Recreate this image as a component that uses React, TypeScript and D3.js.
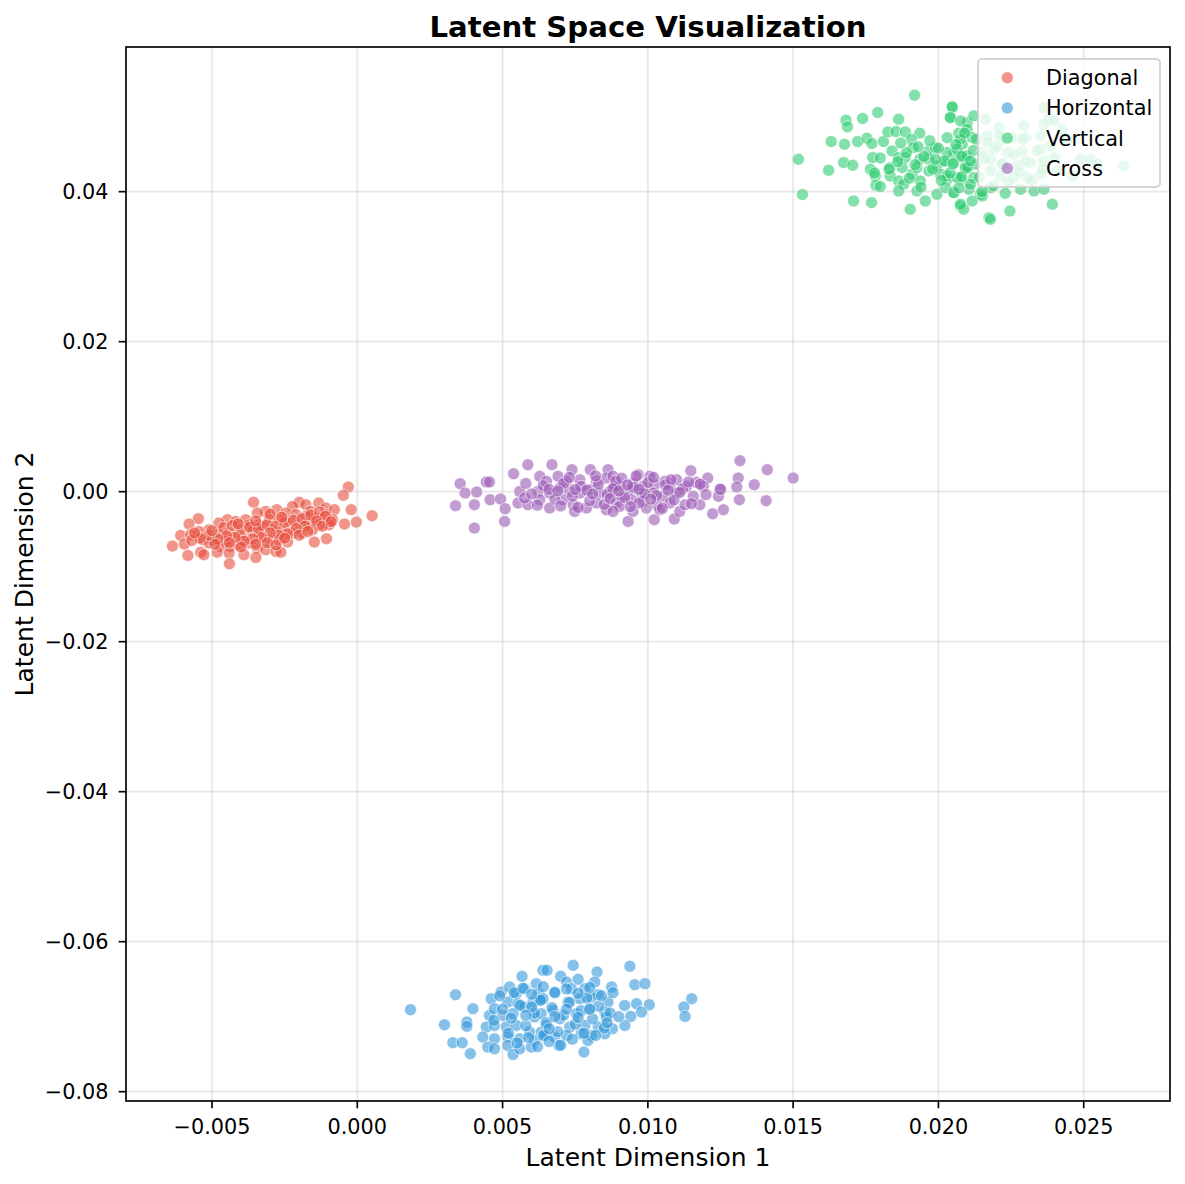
import React from "react";
import * as d3 from "d3";

// ---------- data ----------
const seriesNames = ["Diagonal", "Horizontal", "Vertical", "Cross"];
const seriesColors = ["#e74c3c", "#3498db", "#2ecc71", "#9b59b6"];

const diagonalPoints: [number, number][] = [
  [-0.00357, -0.00142], [-0.00031, 0.00062], [-0.00048, -0.00049], [-0.00021, -0.0024], [0.00051, -0.0032], [-0.00003, -0.00405], [-0.00044, -0.00432],
  [-0.002, -0.00142], [-0.00177, -0.00174], [-0.00223, -0.00196], [-0.00133, -0.00151], [-0.00108, -0.00218], [-0.00079, -0.0024], [-0.0016, -0.00263],
  [-0.00277, -0.0024], [-0.00315, -0.00263], [-0.00344, -0.00285], [-0.00246, -0.00285], [-0.00211, -0.00307], [-0.00177, -0.00329], [-0.00143, -0.00352], [-0.00108, -0.00307], [-0.00085, -0.00374], [-0.00097, -0.00441], [-0.00131, -0.00441],
  [-0.00447, -0.00374], [-0.00476, -0.00418], [-0.00418, -0.00396], [-0.00384, -0.00374], [-0.00372, -0.00441], [-0.00338, -0.00441], [-0.00303, -0.00374], [-0.00269, -0.00374], [-0.00234, -0.00418], [-0.002, -0.00441], [-0.00166, -0.00418],
  [-0.00547, -0.0036], [-0.00579, -0.00432], [-0.0051, -0.00507], [-0.00545, -0.0053], [-0.00476, -0.00574], [-0.00441, -0.00552], [-0.00407, -0.00574], [-0.00361, -0.0053], [-0.00326, -0.00463], [-0.00292, -0.00507], [-0.00257, -0.0053], [-0.00223, -0.00552], [-0.00189, -0.00552], [-0.00154, -0.00507],
  [-0.00608, -0.00583], [-0.00574, -0.00574], [-0.00533, -0.00641], [-0.00499, -0.00641], [-0.00453, -0.00663], [-0.00395, -0.00619], [-0.00372, -0.00685], [-0.00338, -0.00596], [-0.00303, -0.00641], [-0.00269, -0.00641], [-0.0024, -0.00672],
  [-0.00636, -0.00725], [-0.00595, -0.00699], [-0.0051, -0.00685], [-0.0047, -0.0073], [-0.00436, -0.0073], [-0.00407, -0.00708], [-0.00344, -0.00752], [-0.00315, -0.00774], [-0.0028, -0.00797], [-0.00148, -0.00672], [-0.00106, -0.00628],
  [-0.00583, -0.0085], [-0.00539, -0.00806], [-0.00528, -0.00841], [-0.00482, -0.00806], [-0.00441, -0.00819], [-0.0039, -0.00841], [-0.00349, -0.00877], [-0.00263, -0.00806],
  [-0.0044, -0.00961],
  // dense core
  [-0.0046, -0.0048], [-0.0043, -0.0045], [-0.004, -0.005], [-0.0037, -0.0047], [-0.0034, -0.0049], [-0.0031, -0.0044], [-0.0028, -0.0046], [-0.0025, -0.0041], [-0.0022, -0.0038], [-0.0019, -0.0036],
  [-0.0016, -0.0031], [-0.0013, -0.0027], [-0.0011, -0.0033], [-0.0014, -0.0039], [-0.0018, -0.0046], [-0.0021, -0.0049], [-0.0024, -0.0056], [-0.0027, -0.0058], [-0.003, -0.0055], [-0.0033, -0.0061],
  [-0.0036, -0.0063], [-0.0039, -0.0066], [-0.0042, -0.0061], [-0.0045, -0.0059], [-0.0048, -0.0063], [-0.0051, -0.0058], [-0.0054, -0.0062], [-0.0057, -0.0065], [-0.0049, -0.007], [-0.0044, -0.0068],
  [-0.004, -0.0074], [-0.0035, -0.007], [-0.0031, -0.0068], [-0.0028, -0.0071], [-0.0025, -0.0062], [-0.002, -0.0058], [-0.0017, -0.0053], [-0.0012, -0.0046], [-0.0009, -0.004], [-0.0026, -0.0034],
  [-0.003, -0.003], [-0.0035, -0.0039], [-0.0041, -0.0043], [-0.005, -0.0052], [-0.0056, -0.0055],
];

const horizontalPoints: [number, number][] = [
  [0.00183, -0.06907], [0.00338, -0.06707], [0.00398, -0.06894], [0.003, -0.07107], [0.00377, -0.07072], [0.00377, -0.07129], [0.00329, -0.07347], [0.00361, -0.07347], [0.00389, -0.07494],
  [0.00567, -0.06462], [0.00639, -0.06382], [0.00461, -0.0676], [0.00455, -0.06983], [0.00472, -0.06894], [0.00495, -0.06671], [0.00524, -0.06604], [0.00547, -0.06693], [0.00576, -0.06627], [0.00616, -0.0656], [0.00622, -0.06693],
  [0.00518, -0.06805], [0.00553, -0.06827], [0.00576, -0.06871], [0.00605, -0.06805], [0.00633, -0.06782], [0.00501, -0.06983], [0.00536, -0.0696], [0.0061, -0.07005], [0.00633, -0.0696],
  [0.00444, -0.07138], [0.00472, -0.07116], [0.00513, -0.07138], [0.00547, -0.07116], [0.00593, -0.07205], [0.00633, -0.07205],
  [0.00432, -0.07272], [0.00472, -0.07294], [0.00518, -0.07272], [0.00559, -0.07294], [0.0061, -0.07316], [0.00449, -0.07405], [0.00472, -0.07428], [0.00518, -0.07383], [0.00536, -0.07503], [0.00559, -0.07428], [0.00599, -0.07405],
  [0.00653, -0.06382], [0.00743, -0.06315], [0.00825, -0.06404], [0.00938, -0.06328], [0.007, -0.06462], [0.0076, -0.06502], [0.00817, -0.06538], [0.00955, -0.06573], [0.0099, -0.0656],
  [0.0072, -0.06538], [0.00737, -0.06627], [0.00783, -0.06627], [0.00875, -0.06604], [0.00679, -0.06671], [0.00829, -0.06707], [0.00863, -0.06805], [0.00961, -0.06827], [0.01005, -0.0684],
  [0.01151, -0.0676], [0.01124, -0.06871], [0.01128, -0.06996], [0.00978, -0.06938], [0.00941, -0.06996], [0.00921, -0.07116], [0.00878, -0.07161], [0.00852, -0.07227],
  [0.00639, -0.0676], [0.00674, -0.06916], [0.00725, -0.06805], [0.00766, -0.0676], [0.00806, -0.06738], [0.00697, -0.07027], [0.00754, -0.0696], [0.008, -0.06894], [0.00852, -0.06938],
  [0.00651, -0.07116], [0.00731, -0.07138], [0.00783, -0.07116], [0.00829, -0.07138], [0.00645, -0.0725], [0.00679, -0.07272], [0.0072, -0.0725], [0.00771, -0.07227], [0.00806, -0.0725],
  [0.00694, -0.07383], [0.00794, -0.07316], [0.0078, -0.07472], [0.00857, -0.07005],
  // dense core
  [0.005, -0.069], [0.0053, -0.0702], [0.0056, -0.0685], [0.0058, -0.0712], [0.0061, -0.0695], [0.0063, -0.0678], [0.0065, -0.0708], [0.0067, -0.0688], [0.0069, -0.072], [0.0071, -0.0698],
  [0.0073, -0.0681], [0.0075, -0.071], [0.0077, -0.0692], [0.0079, -0.0675], [0.0081, -0.0703], [0.0083, -0.0686], [0.0085, -0.0715], [0.0087, -0.0695], [0.0052, -0.0722], [0.0055, -0.0735],
  [0.0059, -0.0728], [0.0062, -0.074], [0.0064, -0.0725], [0.0066, -0.0733], [0.007, -0.0738], [0.0074, -0.073], [0.0078, -0.0722], [0.0082, -0.0725], [0.0049, -0.0672], [0.0054, -0.0668],
  [0.0057, -0.0662], [0.006, -0.067], [0.0064, -0.066], [0.0068, -0.0668], [0.0072, -0.0663], [0.0076, -0.0669], [0.008, -0.0661], [0.0084, -0.0672], [0.0088, -0.0668], [0.009, -0.07],
  [0.0092, -0.0685], [0.006, -0.0687], [0.0068, -0.07], [0.0072, -0.069], [0.0076, -0.0701], [0.0058, -0.0698], [0.0066, -0.0716], [0.008, -0.069], [0.0086, -0.0708], [0.0047, -0.0705],
];

const verticalPoints: [number, number][] = [
  [0.01918, 0.05287], [0.02049, 0.05122], [0.02041, 0.04989], [0.01791, 0.05056], [0.01739, 0.04976], [0.01682, 0.04953], [0.01687, 0.04864], [0.01863, 0.04967],
  [0.01631, 0.04668], [0.01677, 0.04633], [0.01722, 0.04668], [0.01754, 0.04713], [0.01771, 0.04642], [0.01811, 0.04668], [0.01826, 0.04797], [0.01854, 0.04802], [0.01886, 0.04797], [0.01936, 0.0478], [0.01907, 0.047], [0.01913, 0.04588],
  [0.01518, 0.04433], [0.01622, 0.04286], [0.01674, 0.04388], [0.01705, 0.04352], [0.01774, 0.04455], [0.01766, 0.04299], [0.01783, 0.0421], [0.01785, 0.04085], [0.018, 0.04068],
  [0.0184, 0.04544], [0.01834, 0.04321], [0.01834, 0.0421], [0.01863, 0.04455], [0.01886, 0.04455], [0.01875, 0.04321], [0.01863, 0.04143], [0.0188, 0.04099], [0.01863, 0.0401],
  [0.01909, 0.04232], [0.01926, 0.04321], [0.01936, 0.04433], [0.01938, 0.04143], [0.01926, 0.0401], [0.01967, 0.04433], [0.01967, 0.04544], [0.0199, 0.04588], [0.01967, 0.04277], [0.01995, 0.04344], [0.02024, 0.0441],
  [0.02007, 0.04232], [0.0203, 0.04166], [0.02053, 0.03988], [0.01995, 0.03965], [0.01955, 0.03876], [0.01903, 0.03765], [0.01708, 0.03876], [0.0177, 0.03854], [0.01532, 0.03961], [0.02076, 0.0381], [0.02087, 0.03765],
  [0.0207, 0.0478], [0.02082, 0.04633], [0.02053, 0.04499], [0.02087, 0.04477], [0.02093, 0.04321], [0.02076, 0.04166], [0.02099, 0.04922],
  [0.02047, 0.05131], [0.02041, 0.04989], [0.02076, 0.04944], [0.02122, 0.05011], [0.02099, 0.04833], [0.02076, 0.047], [0.02116, 0.04722], [0.0203, 0.04522], [0.02064, 0.04566], [0.02099, 0.04477],
  [0.02053, 0.04388], [0.02093, 0.04321], [0.02128, 0.04366], [0.0203, 0.0421], [0.02064, 0.04188], [0.02122, 0.04188], [0.02024, 0.04054], [0.02053, 0.03988], [0.02105, 0.04032], [0.02145, 0.03965], [0.02179, 0.04054],
  [0.02076, 0.03832], [0.02116, 0.03876], [0.02151, 0.03943], [0.02174, 0.03654], [0.02179, 0.03632], [0.02246, 0.03743], [0.02283, 0.04032], [0.02329, 0.0401], [0.02363, 0.04032], [0.02392, 0.03832],
  [0.02208, 0.04855], [0.02168, 0.04744], [0.0222, 0.047], [0.02191, 0.04566], [0.02294, 0.04878], [0.02254, 0.04722], [0.023, 0.04722], [0.02352, 0.04744], [0.02363, 0.05122], [0.0238, 0.04967], [0.02363, 0.049], [0.02398, 0.04944],
  [0.02386, 0.04611], [0.02352, 0.04566], [0.02289, 0.04544], [0.02237, 0.04522], [0.02179, 0.04433], [0.0222, 0.04366], [0.02271, 0.04344], [0.02317, 0.04388], [0.02363, 0.04411],
  [0.02214, 0.0421], [0.0226, 0.04188], [0.02306, 0.04188], [0.02352, 0.04232], [0.02409, 0.04277], [0.02461, 0.0421], [0.0249, 0.04433], [0.02524, 0.04433], [0.02547, 0.04366], [0.02637, 0.04344],
  [0.02444, 0.047], [0.02426, 0.04833], [0.02162, 0.04967],
  // dense core
  [0.0186, 0.044], [0.0189, 0.0452], [0.0192, 0.0436], [0.0195, 0.0447], [0.0198, 0.043], [0.02, 0.0458], [0.0202, 0.0441], [0.0204, 0.0425], [0.0206, 0.0463], [0.0208, 0.0447],
  [0.021, 0.0432], [0.0212, 0.0455], [0.0214, 0.0419], [0.0216, 0.0444], [0.0218, 0.0428], [0.022, 0.046], [0.0222, 0.0437], [0.0224, 0.0413], [0.0226, 0.045], [0.0228, 0.0426],
  [0.019, 0.0418], [0.0194, 0.0406], [0.0197, 0.0468], [0.0201, 0.0415], [0.0203, 0.0472], [0.0207, 0.0405], [0.0209, 0.0478], [0.0211, 0.041], [0.0213, 0.047], [0.0215, 0.04],
  [0.0217, 0.0466], [0.0219, 0.0408], [0.0221, 0.0475], [0.0223, 0.0398], [0.0187, 0.0465], [0.0183, 0.043], [0.018, 0.0445], [0.0178, 0.0425], [0.0205, 0.0437], [0.0199, 0.0443],
  [0.0211, 0.0441], [0.0215, 0.0452], [0.0208, 0.042], [0.0193, 0.046], [0.023, 0.044], [0.0234, 0.0455], [0.0232, 0.0415], [0.0236, 0.043], [0.024, 0.0445], [0.0229, 0.047],
];

const crossPoints: [number, number][] = [
  [0.00587, 0.0036], [0.0067, 0.0036], [0.00538, 0.0024], [0.00739, 0.00294], [0.00802, 0.00294], [0.00863, 0.00294],
  [0.00354, 0.00107], [0.00444, 0.00129], [0.00455, 0.00129], [0.00371, -0.00018], [0.00411, -0.00004], [0.00338, -0.00187], [0.00403, -0.00174], [0.00457, -0.00107], [0.00493, -0.00098], [0.00509, -0.00227], [0.00403, -0.00485], [0.00507, -0.00396],
  [0.00553, -0.00151], [0.00559, 0.00004], [0.00587, -0.00174], [0.00576, -0.00085], [0.00628, 0.00205], [0.00651, 0.00138], [0.00691, 0.00205], [0.0072, 0.00138], [0.00766, 0.0016], [0.00823, 0.00138], [0.00857, 0.00182], [0.0088, 0.00205],
  [0.00622, 0.00004], [0.00662, -0.00018], [0.00697, 0.00049], [0.00731, 0.00004], [0.00766, -0.00018], [0.008, 0.00027], [0.00834, -0.00018], [0.00869, 0.00004],
  [0.00628, -0.00107], [0.00662, -0.00218], [0.00708, -0.00107], [0.00743, -0.00174], [0.00748, -0.00263], [0.00789, -0.00218], [0.00823, -0.00151], [0.00857, -0.0024], [0.00892, -0.00151], [0.00886, 0.00071],
  [0.01317, 0.00414], [0.01411, 0.00294], [0.015, 0.00182], [0.01148, 0.0028], [0.01206, 0.00182], [0.01311, 0.00182], [0.01366, 0.00093], [0.01306, 0.00062], [0.01166, 0.00125], [0.01248, 0.00036],
  [0.01315, -0.00107], [0.01407, -0.0012], [0.01243, -0.00062], [0.0126, -0.0024], [0.01223, -0.00294], [0.01179, -0.00174], [0.01091, -0.00365], [0.01022, -0.00374], [0.00932, -0.00396], [0.0111, -0.00263],
  [0.01128, -0.00174], [0.01133, 0.00071], [0.01099, 0.0016], [0.01059, 0.00138], [0.01007, 0.00205], [0.00967, 0.00227], [0.00949, 0.00116], [0.00984, 0.00071], [0.01024, 0.00093], [0.01076, 0.00049],
  [0.01099, -0.00018], [0.01053, -0.00062], [0.01018, -0.00018], [0.00978, -0.00018], [0.00938, 0.00027], [0.00903, 0.00071], [0.00909, -0.00062], [0.00944, -0.00107], [0.00984, -0.00129], [0.0103, -0.00174],
  [0.01076, -0.00151], [0.00903, -0.00196], [0.00949, -0.00263], [0.00995, -0.00218], [0.01041, -0.0024], [0.0088, -0.00263], [0.01156, -0.00062], [0.01191, 0.00071],
  // dense core
  [0.006, -0.0003], [0.0064, 0.0008], [0.0068, -0.001], [0.0071, 0.0011], [0.0074, -0.0006], [0.0077, 0.0007], [0.008, -0.0012], [0.0083, 0.001], [0.0086, -0.0004], [0.0089, 0.0014],
  [0.0092, -0.0008], [0.0095, 0.0006], [0.0097, -0.0015], [0.01, 0.0012], [0.0103, -0.0005], [0.0106, 0.0009], [0.0109, -0.0011], [0.0112, 0.0004], [0.0115, -0.0016], [0.0118, 0.001],
  [0.0062, -0.0018], [0.0066, 0.0003], [0.007, -0.0019], [0.0073, 0.0019], [0.0076, -0.0021], [0.0079, 0.0002], [0.0082, 0.0021], [0.0085, -0.0017], [0.0088, 0.0004], [0.0091, 0.0018],
  [0.0094, -0.002], [0.0096, 0.0021], [0.0099, -0.0003], [0.0102, 0.0019], [0.0105, -0.0022], [0.0108, 0.0016], [0.0111, -0.0001], [0.0114, 0.0013], [0.0087, -0.0009], [0.009, 0.0001],
  [0.0093, 0.0009], [0.0081, -0.0003], [0.0075, 0.0003], [0.0069, 0.0001], [0.0097, 0.0003], [0.0101, -0.001], [0.0107, 0.0002], [0.012, -0.0004], [0.0125, 0.0003], [0.0058, 0.0011],
];

const xTickValues = [-0.005, 0.0, 0.005, 0.01, 0.015, 0.02, 0.025];
const xTickLabels = ["\u22120.005", "0.000", "0.005", "0.010", "0.015", "0.020", "0.025"];
const yTickValues = [-0.08, -0.06, -0.04, -0.02, 0.0, 0.02, 0.04];
const yTickLabels = ["\u22120.08", "\u22120.06", "\u22120.04", "\u22120.02", "0.00", "0.02", "0.04"];

const titleText = "Latent Space Visualization";
const xLabelText = "Latent Dimension 1";
const yLabelText = "Latent Dimension 2";

// ---------- layout ----------
const W = 1185;
const H = 1184;
const plot = { left: 126, right: 1170, top: 47, bottom: 1101 };
const FONT = "'DejaVu Sans', sans-serif";
const R = 6;

export default function App() {
  const x = d3.scaleLinear().domain([-0.00796, 0.02797]).range([plot.left, plot.right]);
  const y = d3.scaleLinear().domain([-0.08124, 0.05929]).range([plot.bottom, plot.top]);

  const series = [diagonalPoints, horizontalPoints, verticalPoints, crossPoints].map((pts, i) => ({
    name: seriesNames[i],
    color: seriesColors[i],
    points: pts,
  }));

  const gridColor = "#b0b0b0";
  const legend = { x: 978, y: 59, w: 182, h: 128 };

  return (
    <svg
      width={W}
      height={H}
      viewBox={`0 0 ${W} ${H}`}
      style={{ position: "absolute", left: 0, top: 0, background: "#fff" }}
      fontFamily={FONT}
    >
      <rect x={0} y={0} width={W} height={H} fill="#fff" />

      {/* points */}
      {series.map((s) => (
        <g key={s.name}>
          {s.points.map((p, j) => (
            <circle
              key={j}
              cx={x(p[0])}
              cy={y(p[1])}
              r={R}
              fill={s.color}
              fillOpacity={0.6}
              stroke="#ffffff"
              strokeOpacity={0.6}
              strokeWidth={1}
            />
          ))}
        </g>
      ))}

      {/* grid (above collections, like matplotlib) */}
      <g stroke={gridColor} strokeOpacity={0.3} strokeWidth={1.67}>
        {xTickValues.map((v) => (
          <line key={"gx" + v} x1={x(v)} x2={x(v)} y1={plot.top} y2={plot.bottom} />
        ))}
        {yTickValues.map((v) => (
          <line key={"gy" + v} x1={plot.left} x2={plot.right} y1={y(v)} y2={y(v)} />
        ))}
      </g>

      {/* spines */}
      <rect
        x={plot.left}
        y={plot.top}
        width={plot.right - plot.left}
        height={plot.bottom - plot.top}
        fill="none"
        stroke="#000"
        strokeWidth={1.67}
      />

      {/* x ticks */}
      {xTickValues.map((v, i) => (
        <g key={"xt" + v}>
          <line x1={x(v)} x2={x(v)} y1={plot.bottom} y2={plot.bottom + 7.3} stroke="#000" strokeWidth={1.67} />
          <text x={x(v)} y={plot.bottom + 33} textAnchor="middle" fontSize={20.8} fill="#000">
            {xTickLabels[i]}
          </text>
        </g>
      ))}

      {/* y ticks */}
      {yTickValues.map((v, i) => (
        <g key={"yt" + v}>
          <line x1={plot.left - 7.3} x2={plot.left} y1={y(v)} y2={y(v)} stroke="#000" strokeWidth={1.67} />
          <text x={plot.left - 17.5} y={y(v) + 7.6} textAnchor="end" fontSize={20.8} fill="#000">
            {yTickLabels[i]}
          </text>
        </g>
      ))}

      {/* axis labels */}
      <text x={(plot.left + plot.right) / 2} y={1166} textAnchor="middle" fontSize={25} fill="#000">
        {xLabelText}
      </text>
      <text
        transform={`translate(33, ${(plot.top + plot.bottom) / 2}) rotate(-90)`}
        textAnchor="middle"
        fontSize={25}
        fill="#000"
      >
        {yLabelText}
      </text>

      {/* title */}
      <text x={(plot.left + plot.right) / 2} y={37} textAnchor="middle" fontSize={29.2} fontWeight="bold" fill="#000">
        {titleText}
      </text>

      {/* legend */}
      <rect
        x={legend.x}
        y={legend.y}
        width={legend.w}
        height={legend.h}
        rx={4}
        ry={4}
        fill="#ffffff"
        fillOpacity={0.8}
        stroke="#cccccc"
        strokeOpacity={0.8}
        strokeWidth={2}
      />
      {series.map((s, i) => {
        const cy = 77.7 + i * 30.2;
        return (
          <g key={"lg" + s.name}>
            <circle cx={1007.3} cy={cy} r={R} fill={s.color} fillOpacity={0.6} stroke="#fff" strokeOpacity={0.6} strokeWidth={1} />
            <text x={1046} y={cy + 7.4} fontSize={20.8} fill="#000">
              {s.name}
            </text>
          </g>
        );
      })}
    </svg>
  );
}
